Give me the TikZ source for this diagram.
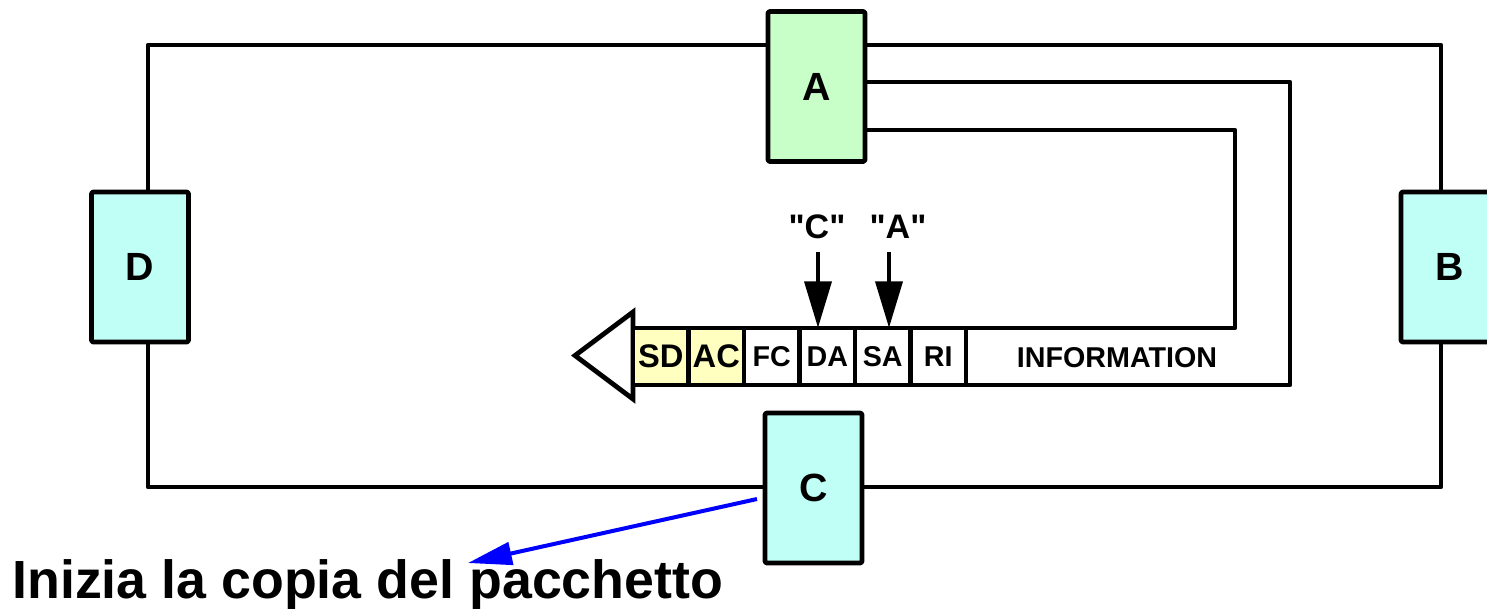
\documentclass[tikz,border=0pt]{standalone}
\usepackage{fontspec}
\setmainfont{Liberation Sans}[Ligatures=TeXOff]
\usetikzlibrary{arrows.meta,calc}
\definecolor{boxgreen}{RGB}{200,255,200}
\definecolor{boxcyan}{RGB}{191,255,245}
\definecolor{cellyellow}{RGB}{255,255,192}
\begin{document}
\begin{tikzpicture}[x=0.75pt,y=-0.75pt, line width=3.6pt, line join=round,
  station/.style={draw, rounded corners=1.5pt, minimum width=72.75pt, minimum height=112.5pt,
    inner sep=0pt, outer sep=0pt, font=\fontsize{29.5}{29.5}\selectfont\bfseries},
  cell/.style={draw, fill=white, minimum width=41.625pt, minimum height=42.75pt,
    inner sep=0pt, outer sep=0pt, font=\fontsize{21.5}{21.5}\selectfont\bfseries},
  hdr/.style={cell, fill=cellyellow, font=\fontsize{24.5}{24.5}\selectfont\bfseries},
  addr/.style={inner sep=0pt, font=\fontsize{25.5}{25.5}\selectfont\bfseries},
  ptr/.style={-{Triangle[length=35pt,width=20pt]}},
  note/.style={blue, line width=3pt, -{Triangle[length=33pt,width=17pt]}}]
\useasboundingbox (0,0) rectangle (1487,608);

% stations
\node[station, fill=boxgreen] (A) at (816.5,86.5) {A};
\node[station, fill=boxcyan] (D) at (140,267) {D};
\node[station, fill=boxcyan] (B) at (1449.5,267) {B};
\node[station, fill=boxcyan] (C) at (813.5,488) {C};

% ring corners
\coordinate (tl) at (148,45);
\coordinate (tr) at (1441,45);
\coordinate (bl) at (148,487);
\coordinate (br) at (1441,487);
\draw (A.west |- tl) -- (tl) -- (tl |- D.north);
\draw (tl |- D.south) -- (bl) -- (C.west |- bl);
\draw (C.east |- bl) -- (br) -- (br |- B.south);
\draw (br |- B.north) -- (tr) -- (A.east |- tr);

% packet arrow head
\draw[fill=white, line join=miter] (633,312) -- (575,355.5) -- (633,399) -- cycle;

% packet cells
\node[hdr]  (sd) at (660.75,356.5) {SD};
\node[hdr]  (ac) at (716.25,356.5) {AC};
\node[cell] (fc) at (771.75,356.5) {FC};
\node[cell] (da) at (827.25,356.5) {DA};
\node[cell] (sa) at (882.75,356.5) {SA};
\node[cell] (ri) at (938.25,356.5) {RI};
\node[inner sep=0pt, font=\fontsize{21.5}{21.5}\selectfont\bfseries] (info) at (1117,358) {INFORMATION};

% lines from A forming the packet
\coordinate (q1) at (1290,82);
\coordinate (q2) at (1235,130);
\draw (A.east |- q1) -- (q1) |- (ri.south east);
\draw (A.east |- q2) -- (q2) |- (ri.north east);

% address labels
\node[addr] (lc) at (817,227) {"C"};
\node[addr] (la) at (898,227) {"A"};
\coordinate (pc) at (818,252);
\coordinate (pa) at (889,252);
\draw[ptr] (pc) -- (pc |- da.north);
\draw[ptr] (pa) -- (pa |- sa.north);

% note
\node[anchor=base west, inner sep=0pt, font=\fontsize{40.3}{40.3}\selectfont\bfseries] (txt) at (10,598) {Inizia la copia del pacchetto};
\coordinate (tgt) at (468,563);
\draw[note] ($(C.west)+(-8,11)$) -- (tgt);
\end{tikzpicture}
\end{document}
